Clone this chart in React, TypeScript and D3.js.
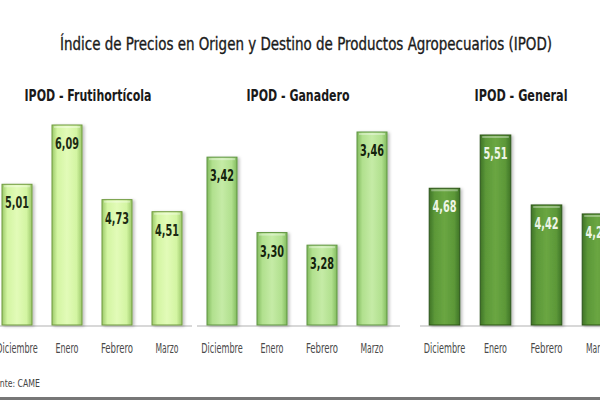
import React from "react";
import * as d3 from "d3";

const chartTitle = "Índice de Precios en Origen y Destino de Productos Agropecuarios (IPOD)";
const months = ["Diciembre", "Enero", "Febrero", "Marzo"];
const panelTitles = ["IPOD - Frutihortícola", "IPOD - Ganadero", "IPOD - General"];
const frutihorticola = [5.01, 6.09, 4.73, 4.51];
const ganadero = [3.42, 3.3, 3.28, 3.46];
const general = [4.68, 5.51, 4.42, 4.28];
const valueLabels = [
  ["5,01", "6,09", "4,73", "4,51"],
  ["3,42", "3,30", "3,28", "3,46"],
  ["4,68", "5,51", "4,42", "4,28"],
];
const axisMins = [2.446, 3.153, 2.55];
const source = "Fuente: CAME";

const W = 600;
const H = 400;
const baseY = 325;
const FONT = "'DejaVu Sans Condensed', 'Liberation Sans Narrow', 'DejaVu Sans', sans-serif";

type Panel = {
  values: number[];
  xRange: [number, number];
  topY: number;
  titleX: number;
  titleW: number;
  lineRange: [number, number];
  colors: { edge: string; mid: string; light: string; stroke: string; text: string };
};

const panels: Panel[] = [
  {
    values: frutihorticola,
    xRange: [-8, 192],
    topY: 125,
    titleX: 88,
    titleW: 127,
    lineRange: [0, 192],
    colors: { edge: "#9cc96a", mid: "#d3f5a2", light: "#e2fbb8", stroke: "#6f9a3e", text: "#1c2a12" },
  },
  {
    values: ganadero,
    xRange: [197, 397],
    topY: 132,
    titleX: 298,
    titleW: 103,
    lineRange: [197, 400],
    colors: { edge: "#82bb5e", mid: "#b1e08e", light: "#c5eba6", stroke: "#5f9440", text: "#14220c" },
  },
  {
    values: general,
    xRange: [419, 623],
    topY: 135,
    titleX: 521,
    titleW: 93,
    lineRange: [420, 600],
    colors: { edge: "#3f7425", mid: "#5c9838", light: "#6aa642", stroke: "#2c5417", text: "#eef5e6" },
  },
];

export default function App() {
  return (
    <svg
      width={W}
      height={H}
      style={{ position: "absolute", left: 0, top: 0, background: "#fff" }}
      fontFamily={FONT}
    >
      <defs>
        {panels.map((p, i) => (
          <linearGradient key={i} id={`g${i}`} x1="0" x2="1" y1="0" y2="0">
            <stop offset="0" stopColor={p.colors.edge} />
            <stop offset="0.18" stopColor={p.colors.mid} />
            <stop offset="0.5" stopColor={p.colors.light} />
            <stop offset="0.82" stopColor={p.colors.mid} />
            <stop offset="1" stopColor={p.colors.edge} />
          </linearGradient>
        ))}
        <filter id="sh" x="-20%" y="-10%" width="150%" height="130%">
          <feDropShadow dx="2" dy="1" stdDeviation="1.5" floodColor="#000" floodOpacity="0.25" />
        </filter>
      </defs>
      <rect x={0} y={0} width={W} height={H} fill="#fff" />
      <text
        x={306}
        y={50}
        textAnchor="middle"
        fontSize={18}
        fill="#1a1a1a"
        stroke="#1a1a1a"
        strokeWidth={0.35}
        textLength={492}
        lengthAdjust="spacingAndGlyphs"
      >
        {chartTitle}
      </text>
      {panels.map((p, i) => {
        const x = d3.scaleBand<string>().domain(months).range(p.xRange).paddingInner(0.4).paddingOuter(0.2);
        const y = d3
          .scaleLinear()
          .domain([axisMins[i], d3.max(p.values) as number])
          .range([baseY, p.topY]);
        return (
          <g key={i}>
            <text
              x={p.titleX}
              y={101}
              textAnchor="middle"
              fontSize={16}
              fontWeight="bold"
              fill="#1a1a1a"
              textLength={p.titleW}
              lengthAdjust="spacingAndGlyphs"
            >
              {panelTitles[i]}
            </text>
            <line x1={p.lineRange[0]} x2={p.lineRange[1]} y1={baseY + 1} y2={baseY + 1} stroke="#d8d8d8" strokeWidth={2} />
            {p.values.map((v, j) => {
              const bx = x(months[j]) as number;
              const bw = x.bandwidth();
              const ty = y(v);
              const cx = bx + bw / 2;
              return (
                <g key={j}>
                  <rect
                    x={bx}
                    y={ty}
                    width={bw}
                    height={baseY - ty}
                    fill={`url(#g${i})`}
                    stroke={p.colors.stroke}
                    strokeWidth={1}
                    filter="url(#sh)"
                  />
                  <rect x={bx + 2} y={ty + 1} width={bw - 4} height={2} fill="#ffffff" opacity={0.35} />
                  <text
                    x={cx}
                    y={ty + 24}
                    textAnchor="middle"
                    fontSize={15}
                    fontWeight="bold"
                    fill={p.colors.text}
                    textLength={24}
                    lengthAdjust="spacingAndGlyphs"
                  >
                    {valueLabels[i][j]}
                  </text>
                  <text
                    x={cx}
                    y={353}
                    textAnchor="middle"
                    fontSize={14}
                    fill="#4a4a4a"
                    textLength={months[j].length * 4.6}
                    lengthAdjust="spacingAndGlyphs"
                  >
                    {months[j]}
                  </text>
                </g>
              );
            })}
          </g>
        );
      })}
      <text x={40} y={387} textAnchor="end" fontSize={11} fill="#444" textLength={54} lengthAdjust="spacingAndGlyphs">
        {source}
      </text>
      <line x1={0} x2={W} y1={398.5} y2={398.5} stroke="#777" strokeWidth={3} />
    </svg>
  );
}
